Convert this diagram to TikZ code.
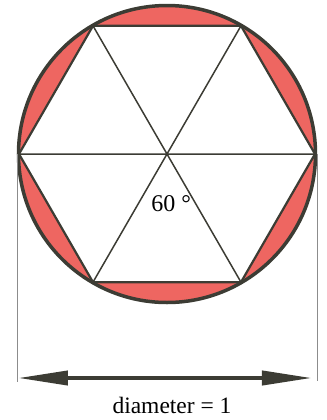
\documentclass[tikz,border=0pt]{standalone}
\usepackage{fontspec}
\setmainfont{Liberation Serif}
\usetikzlibrary{arrows.meta}
\definecolor{segred}{RGB}{238,102,97}
\definecolor{inkgray}{RGB}{60,60,52}
\definecolor{dimgray}{RGB}{140,140,140}
\begin{document}
\begin{tikzpicture}[x=0.5pt,y=0.5pt]
\useasboundingbox (-167,-266) rectangle (160,154);
\coordinate (O) at (0,0);
\foreach \i in {0,...,5} \coordinate (v\i) at (\i*60:148);
\fill[segred, even odd rule] (O) circle (148.5) (v0) -- (v1) -- (v2) -- (v3) -- (v4) -- (v5) -- cycle;
\draw[inkgray, line width=0.75pt] (v0) -- (v3) (v1) -- (v4) (v2) -- (v5);
\draw[inkgray, line width=1.1pt] (v0) -- (v1) -- (v2) -- (v3) -- (v4) -- (v5) -- cycle;
\draw[inkgray, line width=1.75pt] (O) circle (148.5);
\coordinate (dimL) at (-150,0);
\coordinate (dimR) at (150,0);
\coordinate (dimLend) at (-150,-228);
\coordinate (dimRend) at (150,-227);
\draw[dimgray, line width=0.4pt] (dimL) -- (dimLend);
\draw[dimgray, line width=0.4pt] (dimR) -- (dimRend);
\coordinate (arrL) at (-149,-224);
\coordinate (arrR) at (145,-224);
\draw[inkgray, line width=2pt, {Triangle[length=25pt,width=7pt]}-{Triangle[length=25pt,width=7pt]}] (arrL) -- (arrR);
\node[inner sep=0, anchor=base, font=\fontsize{11.75}{14}\selectfont] (diam) at (5,-259) {diameter = 1};
\node[inner sep=0, anchor=base west, font=\fontsize{12}{14}\selectfont] (angle) at (-16,-57) {60 °};
\end{tikzpicture}
\end{document}
